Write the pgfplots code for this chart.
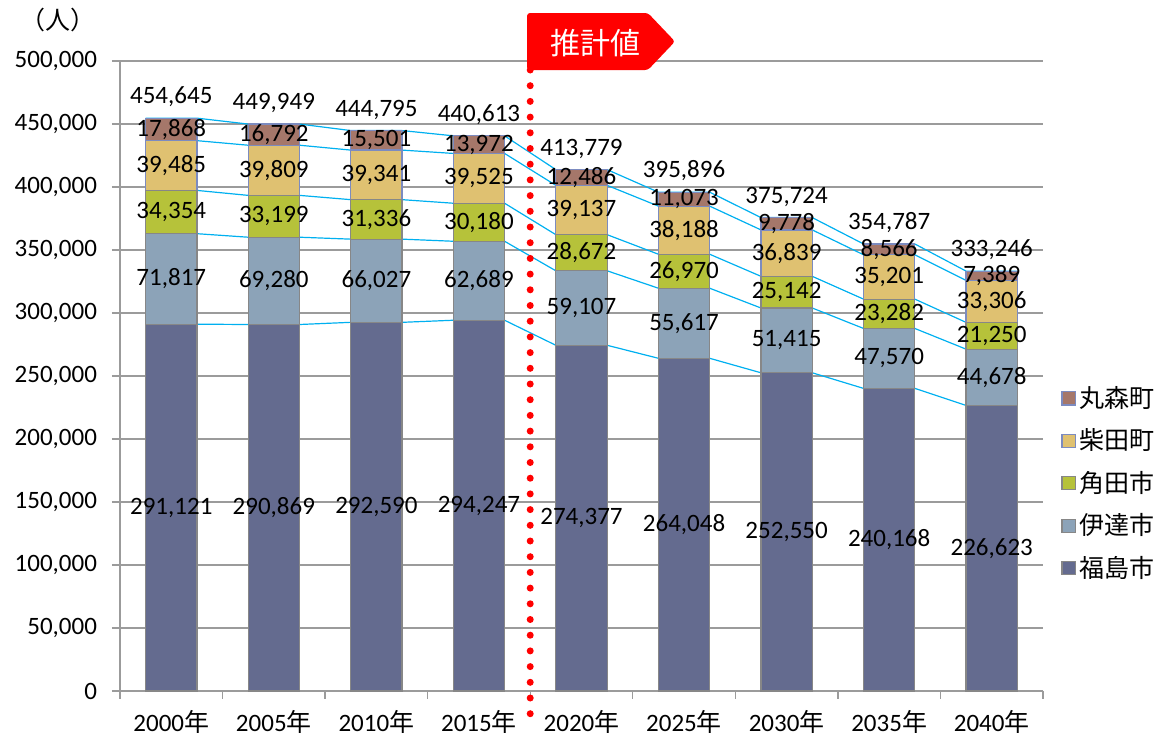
\documentclass[border=0pt]{standalone}
\usepackage{pgfplots}
\pgfplotsset{compat=1.18}
\usepackage{pgfplotstable}
\usepackage{fontspec}
\setmainfont{Carlito}
\newfontfamily\cjk{Noto Sans CJK JP}
\newcommand\fs{\fontsize{12.5}{15}\selectfont}
\definecolor{cFuku}{RGB}{100,107,143}
\definecolor{cDate}{RGB}{140,163,184}
\definecolor{cKaku}{RGB}{182,194,58}
\definecolor{cShiba}{RGB}{223,193,113}
\definecolor{cMaru}{RGB}{165,119,106}
\definecolor{bGrey}{RGB}{135,135,135}
\definecolor{bBlue}{RGB}{124,139,192}
\definecolor{gridc}{RGB}{155,155,155}
\definecolor{linkc}{RGB}{0,176,240}

\pgfplotstableread{
x fuku date kaku shiba maru
0 291121 71817 34354 39485 17868
1 290869 69280 33199 39809 16792
2 292590 66027 31336 39341 15501
3 294247 62689 30180 39525 13972
4 274377 59107 28672 39137 12486
5 264048 55617 26970 38188 11073
6 252550 51415 25142 36839 9778
7 240168 47570 23282 35201 8566
8 226623 44678 21250 33306 7389
}\data

\pgfplotstableread{
x c1 c2 c3 c4 c5
-0.25 291121 362938 397292 436777 454645
0.25 291121 362938 397292 436777 454645
0.75 290869 360149 393348 433157 449949
1.25 290869 360149 393348 433157 449949
1.75 292590 358617 389953 429294 444795
2.25 292590 358617 389953 429294 444795
2.75 294247 356936 387116 426641 440613
3.25 294247 356936 387116 426641 440613
3.75 274377 333484 362156 401293 413779
4.25 274377 333484 362156 401293 413779
4.75 264048 319665 346635 384823 395896
5.25 264048 319665 346635 384823 395896
5.75 252550 303965 329107 365946 375724
6.25 252550 303965 329107 365946 375724
6.75 240168 287738 311020 346221 354787
7.25 240168 287738 311020 346221 354787
7.75 226623 271301 292551 325857 333246
8.25 226623 271301 292551 325857 333246
}\links

\pgfplotstableread{
x yf lf yd ld yk lk ys ls ym lm yt lt
0 145561 291,121 327030 71,817 380115 34,354 417035 39,485 445711 17,868 454645 454,645
1 145435 290,869 325509 69,280 376749 33,199 413253 39,809 441553 16,792 449949 449,949
2 146295 292,590 325604 66,027 374285 31,336 409624 39,341 437045 15,501 444795 444,795
3 147124 294,247 325592 62,689 372026 30,180 406879 39,525 433627 13,972 440613 440,613
4 137189 274,377 303931 59,107 347820 28,672 381725 39,137 407536 12,486 413779 413,779
5 132024 264,048 291857 55,617 333150 26,970 365729 38,188 390360 11,073 395896 395,896
6 126275 252,550 278258 51,415 316536 25,142 347527 36,839 370835 9,778 375724 375,724
7 120084 240,168 263953 47,570 299379 23,282 328621 35,201 350504 8,566 354787 354,787
8 113312 226,623 248962 44,678 281926 21,250 309204 33,306 329552 7,389 333246 333,246
}\labels

\pgfplotsset{
  common/.style={scale only axis, width=461.5pt, height=315pt,
    xmin=-0.5, xmax=8.5, ymin=0, ymax=500000, at={(0,0)}, anchor=south west, clip=false},
  lab/.style={only marks, mark=text, text mark={}, nodes near coords,
    point meta=explicit symbolic,
    every node near coord/.append style={anchor=center, font=\fs, text=black}},
}

\begin{document}
\begin{tikzpicture}
\useasboundingbox (-60pt,-23.5pt) rectangle (521.5pt,345.5pt);
% axis A: grid, ticks, link lines
\begin{axis}[common,
  axis x line*=bottom, axis y line*=left,
  axis line style={gridc, line width=0.7pt},
  ymajorgrids, grid style={gridc, line width=0.7pt},
  scaled y ticks=false,
  ytick={0,50000,...,500000},
  yticklabels={0,{50,000},{100,000},{150,000},{200,000},{250,000},{300,000},{350,000},{400,000},{450,000},{500,000}},
  xtick={-0.5,0.5,...,8.5},
  xticklabels={2000{\cjk 年},2005{\cjk 年},2010{\cjk 年},2015{\cjk 年},2020{\cjk 年},2025{\cjk 年},2030{\cjk 年},2035{\cjk 年},2040{\cjk 年},{}},
  xticklabel style={xshift=25.64pt, yshift=-2pt},
  yticklabel style={xshift=-4pt},
  tick label style={font=\fs, text=black},
  tick align=outside,
  major tick length=4pt,
  tick style={gridc, line width=0.7pt},
]
\addplot[linkc, line width=0.6pt] table[x=x,y=c1]{\links};
\addplot[linkc, line width=0.6pt] table[x=x,y=c2]{\links};
\addplot[linkc, line width=0.6pt] table[x=x,y=c3]{\links};
\addplot[linkc, line width=0.6pt] table[x=x,y=c4]{\links};
\addplot[linkc, line width=0.6pt] table[x=x,y=c5]{\links};
\node[font=\fs\cjk] at (rel axis cs:-0.0672,1.0651) {（人）};
\end{axis}
% axis B: stacked bars + legend
\begin{axis}[common, hide axis, ybar stacked, bar width=0.5,
  legend image code/.code={\draw[#1] (0pt,-3.3pt) rectangle (6.6pt,3.3pt);},
  reverse legend,
  legend cell align=left,
  legend style={draw=none, fill=none, font=\fs\cjk, at={(1.013,0.497)}, anchor=north west, row sep=5.2pt},
]
\addplot[fill=cFuku, draw=bGrey, line width=0.6pt] table[x=x,y=fuku]{\data};
\addlegendentry{福島市}
\addplot[fill=cDate, draw=bGrey, line width=0.6pt] table[x=x,y=date]{\data};
\addlegendentry{伊達市}
\addplot[fill=cKaku, draw=bGrey, line width=0.6pt] table[x=x,y=kaku]{\data};
\addlegendentry{角田市}
\addplot[fill=cShiba, draw=bBlue, line width=0.6pt] table[x=x,y=shiba]{\data};
\addlegendentry{柴田町}
\addplot[fill=cMaru, draw=bBlue, line width=0.6pt] table[x=x,y=maru]{\data};
\addlegendentry{丸森町}
\end{axis}
% axis C: labels and annotations
\begin{axis}[common, hide axis]
\addplot[lab] table[x=x,y=yf,meta=lf]{\labels};
\addplot[lab] table[x=x,y=yd,meta=ld]{\labels};
\addplot[lab] table[x=x,y=yk,meta=lk]{\labels};
\addplot[lab] table[x=x,y=ys,meta=ls]{\labels};
\addplot[lab] table[x=x,y=ym,meta=lm]{\labels};
\addplot[lab, every node near coord/.append style={anchor=south, yshift=2pt}] table[x=x,y=yt,meta=lt]{\labels};
\addplot[red, line width=3.5pt, line cap=round, dash pattern=on 0pt off 7.85pt] coordinates {(3.5,492857) (3.5,-19048)};
\fill[red, rounded corners=1.5pt] (axis cs:3.469,538095) -- (axis cs:4.648,538095) -- (axis cs:4.912,515476) -- (axis cs:4.648,492857) -- (axis cs:3.469,492857) -- cycle;
\node[text=white, font=\fontsize{15}{18}\selectfont\cjk] at (axis cs:4.132,514000) {推計値};
\end{axis}
\end{tikzpicture}
\end{document}
